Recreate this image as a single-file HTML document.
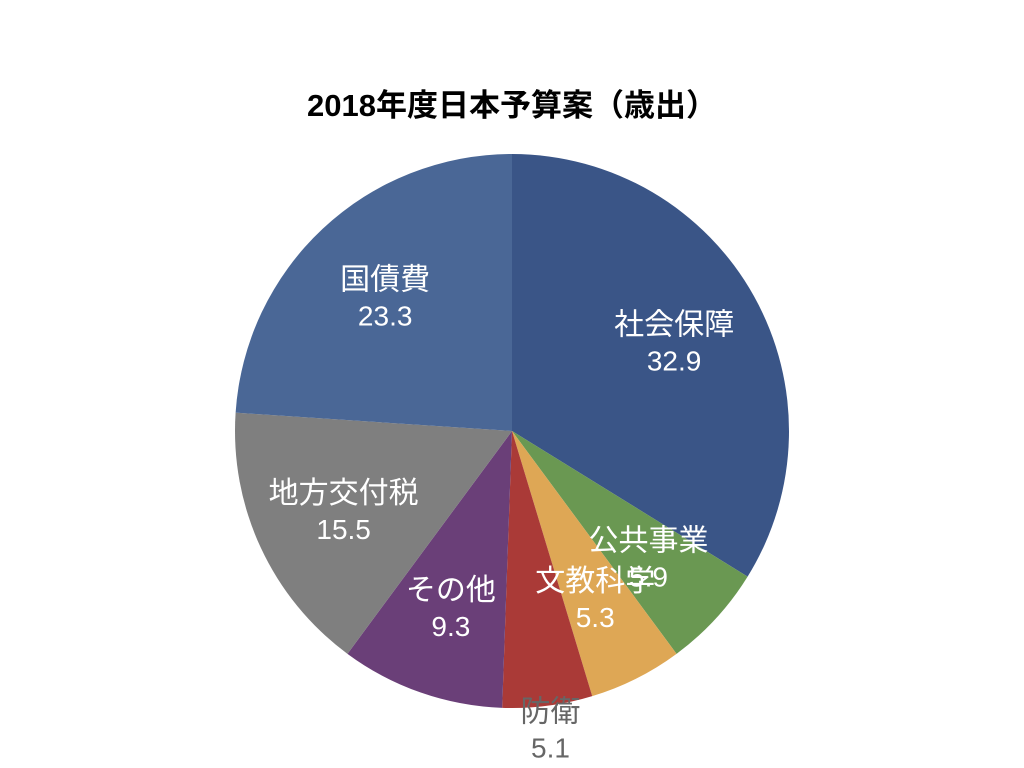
<!DOCTYPE html>
<html><head><meta charset="utf-8">
<style>
html,body{margin:0;padding:0;background:#fff;}
svg{display:block;}
text{font-family:"Liberation Sans","Noto Sans CJK JP",sans-serif;}
</style></head>
<body>
<svg id="chart" width="1024" height="768" viewBox="0 0 1024 768">
<text x="512" y="116" text-anchor="middle" font-size="31" font-weight="bold" fill="#000">2018年度日本予算案（歳出）</text>
<g id="slices"></g>
<g id="labels"></g>
</svg>
<script>
const categories = ["社会保障","公共事業","文教科学","防衛","その他","地方交付税","国債費"];
const values = [32.9, 5.9, 5.3, 5.1, 9.3, 15.5, 23.3];
const colors = ["#3A5587","#6A9852","#DEA755","#AA3A37","#6A3F78","#7F7F7F","#4A6796"];
const outside = [false,false,false,true,false,false,false];
const cx = 512, cy = 431, R = 277;
const ns = "http://www.w3.org/2000/svg";
const total = values.reduce((a,b)=>a+b,0);
const sg = document.getElementById('slices');
const lg = document.getElementById('labels');
function pt(a, r){ return [cx + Math.sin(a)*r, cy - Math.cos(a)*r]; }
let acc = 0;
values.forEach((v,i)=>{
  const a0 = acc/total*2*Math.PI;
  acc += v;
  const a1 = acc/total*2*Math.PI;
  const [x0,y0] = pt(a0,R), [x1,y1] = pt(a1,R);
  const large = (a1-a0) > Math.PI ? 1 : 0;
  const p = document.createElementNS(ns,'path');
  p.setAttribute('d',`M${cx},${cy} L${x0},${y0} A${R},${R} 0 ${large} 1 ${x1},${y1} Z`);
  p.setAttribute('fill',colors[i]);
  
  
  sg.appendChild(p);
  const am = (a0+a1)/2;
  const [lx,ly] = pt(am, outside[i] ? R*1.08 : R*0.67);
  const fill = outside[i] ? "#666" : "#fff";
  const t1 = document.createElementNS(ns,'text');
  t1.setAttribute('x',lx); t1.setAttribute('y',ly-6);
  t1.setAttribute('text-anchor','middle'); t1.setAttribute('font-size','30');
  t1.setAttribute('fill',fill);
  t1.textContent = categories[i];
  
  
  lg.appendChild(t1);
  const t2 = document.createElementNS(ns,'text');
  t2.setAttribute('x',lx); t2.setAttribute('y',ly+30);
  t2.setAttribute('text-anchor','middle'); t2.setAttribute('font-size','28');
  t2.setAttribute('fill',fill);
  t2.textContent = values[i].toFixed(1);
  
  
  lg.appendChild(t2);
});
</script>
</body></html>
